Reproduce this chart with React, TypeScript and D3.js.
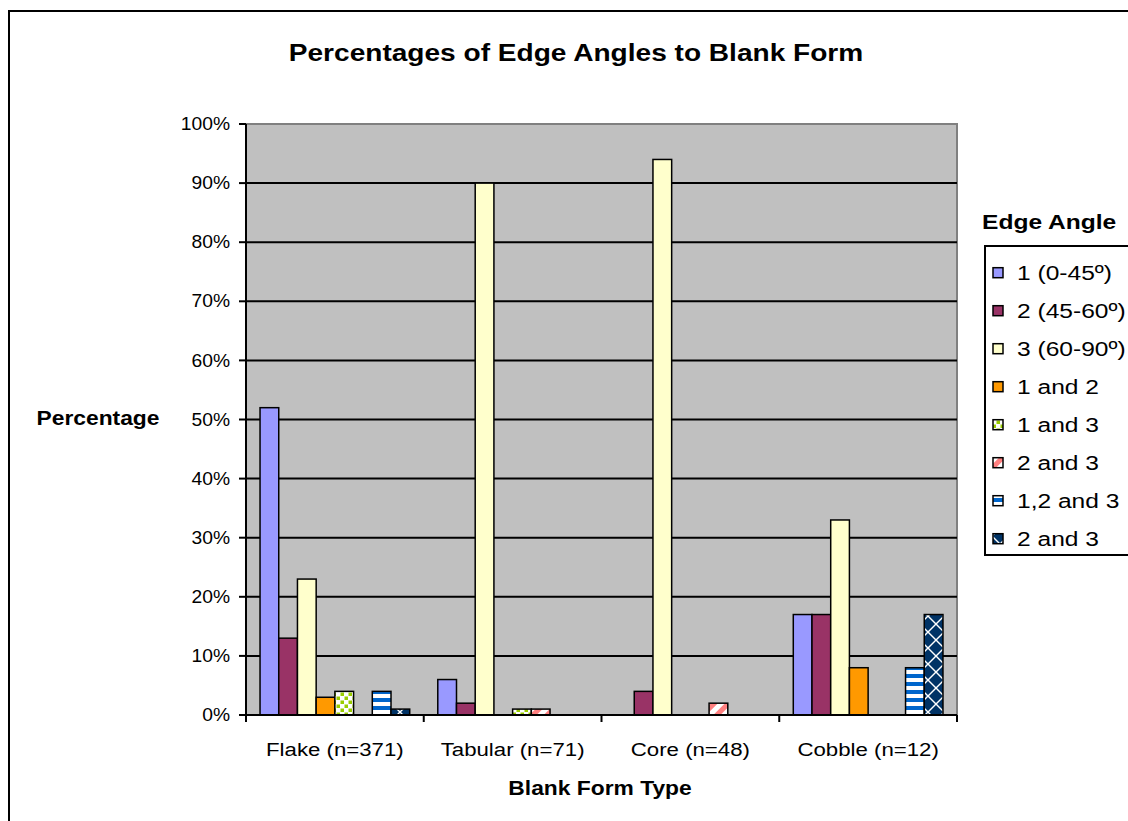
import React from "react";
import * as d3 from "d3";

const categories = ["Flake (n=371)", "Tabular (n=71)", "Core (n=48)", "Cobble (n=12)"];
const seriesNames = ["1 (0-45º)", "2 (45-60º)", "3 (60-90º)", "1 and 2", "1 and 3", "2 and 3", "1,2 and 3", "2 and 3"];
const s1 = [52, 6, 0, 17];
const s2 = [13, 2, 4, 17];
const s3 = [23, 90, 94, 33];
const s12 = [3, 0, 0, 8];
const s13 = [4, 1, 0, 0];
const s23 = [0, 1, 2, 0];
const s123 = [4, 0, 0, 8];
const s23b = [1, 0, 0, 17];
const seriesValues = [s1, s2, s3, s12, s13, s23, s123, s23b];
const yTicks = [0, 10, 20, 30, 40, 50, 60, 70, 80, 90, 100];

const fills = ["#9999FF", "#993366", "#FFFFCC", "#FF9900", "url(#pDots)", "url(#pDiag)", "url(#pHoriz)", "url(#pDiamond)"];

const FONT = "'Liberation Sans', Arial, sans-serif";
const SX = 1.17;

function T(props: { x: number; y: number; size: number; bold?: boolean; anchor?: string; dy?: string; sx?: number; children: React.ReactNode }) {
  const { x, y, size, bold, anchor, dy, sx, children } = props;
  return (
    <text
      transform={`translate(${x},${y}) scale(${sx ?? SX},1)`}
      dy={dy}
      fontSize={size}
      fontWeight={bold ? "bold" : "normal"}
      textAnchor={anchor || "start"}
    >
      {children}
    </text>
  );
}

export default function App() {
  const W = 1128, H = 821;
  const left = 246, right = 957, top = 124, bottom = 715;
  const x = d3.scaleBand<string>().domain(categories).range([left, right]).paddingInner(0).paddingOuter(0);
  const y = d3.scaleLinear().domain([0, 100]).range([bottom, top]);
  const bw = x.bandwidth();
  const gap = (bw * 1.5) / 9.5;
  const inner = d3.scaleBand<number>().domain(d3.range(8)).range([gap / 2, bw - gap / 2]).paddingInner(0).paddingOuter(0);

  return (
    <svg width={W} height={H} style={{ position: "absolute", left: 0, top: 0 }} fontFamily={FONT}>
      <defs>
        <pattern id="pDots" width={8} height={8} patternUnits="userSpaceOnUse">
          <rect width={8} height={8} fill="#fff" />
          <rect x={0.5} y={0.5} width={3.5} height={3.5} fill="#99CC00" />
          <rect x={4.5} y={4.5} width={3.5} height={3.5} fill="#99CC00" />
        </pattern>
        <pattern id="pDiag" width={10} height={10} patternUnits="userSpaceOnUse" patternTransform="rotate(-45)">
          <rect width={10} height={10} fill="#fff" />
          <rect x={0} y={0} width={10} height={5} fill="#FF8080" />
        </pattern>
        <pattern id="pHoriz" width={8} height={8} patternUnits="userSpaceOnUse">
          <rect width={8} height={8} fill="#fff" />
          <rect x={0} y={2} width={8} height={4} fill="#0066CC" />
        </pattern>
        <pattern id="pDiamond" width={16} height={16} patternUnits="userSpaceOnUse">
          <rect width={16} height={16} fill="#fff" />
          <path d="M0,-7 L7,0 L0,7 L-7,0 Z M16,-7 L23,0 L16,7 L9,0 Z M0,9 L7,16 L0,23 L-7,16 Z M16,9 L23,16 L16,23 L9,16 Z M8,1 L15,8 L8,15 L1,8 Z" fill="#003366" />
        </pattern>
      </defs>
      <rect x={0} y={0} width={W} height={H} fill="#fff" />
      <rect x={9} y={11} width={W + 20} height={H + 20} fill="#fff" stroke="#000" strokeWidth={2} />
      <T x={576} y={61} size={24} bold anchor="middle">Percentages of Edge Angles to Blank Form</T>

      {/* plot area */}
      <rect x={left} y={top} width={right - left} height={bottom - top} fill="#C0C0C0" stroke="#808080" strokeWidth={2} />
      {yTicks.slice(1, -1).map((t) => (
        <line key={t} x1={left} x2={right} y1={y(t)} y2={y(t)} stroke="#000" strokeWidth={2} />
      ))}
      {/* bars */}
      {categories.map((c, ci) => (
        <g key={c}>
          {seriesValues.map((vals, si) =>
            vals[ci] > 0 ? (
              <rect
                key={si}
                x={(x(c) as number) + (inner(si) as number)}
                y={y(vals[ci])}
                width={inner.bandwidth()}
                height={y(0) - y(vals[ci])}
                fill={fills[si]}
                stroke="#000"
                strokeWidth={1.5}
              />
            ) : null
          )}
        </g>
      ))}
      {/* axes */}
      <line x1={left} x2={left} y1={top} y2={bottom} stroke="#000" strokeWidth={2} />
      <line x1={left} x2={right} y1={bottom} y2={bottom} stroke="#000" strokeWidth={2} />
      {yTicks.map((t) => (
        <g key={t}>
          <line x1={left - 7} x2={left} y1={y(t)} y2={y(t)} stroke="#000" strokeWidth={2} />
          <T x={left - 16} y={y(t)} dy="0.35em" anchor="end" size={17.5} sx={1.1}>{t}%</T>
        </g>
      ))}
      {[...categories.map((c) => x(c) as number), right].map((v, i) => (
        <line key={i} x1={v} x2={v} y1={bottom} y2={bottom + 7} stroke="#000" strokeWidth={2} />
      ))}
      {categories.map((c) => (
        <T key={c} x={(x(c) as number) + bw / 2} y={749} dy="0.35em" anchor="middle" size={19}>{c}</T>
      ))}
      <T x={600} y={788} dy="0.35em" anchor="middle" size={19.5} bold>Blank Form Type</T>
      <T x={98} y={418} dy="0.35em" anchor="middle" size={19.5} bold>Percentage</T>

      {/* legend */}
      <T x={982} y={229} size={21} bold>Edge Angle</T>
      <rect x={985} y={246} width={200} height={309} fill="#fff" stroke="#000" strokeWidth={2} />
      {seriesNames.map((n, i) => {
        const cy = 272.7 + i * 38;
        return (
          <g key={i}>
            <rect x={993} y={cy - 5} width={10} height={10} fill={fills[i]} stroke="#000" strokeWidth={1.5} />
            <T x={1017} y={cy} dy="0.35em" size={21}>{n}</T>
          </g>
        );
      })}
    </svg>
  );
}
